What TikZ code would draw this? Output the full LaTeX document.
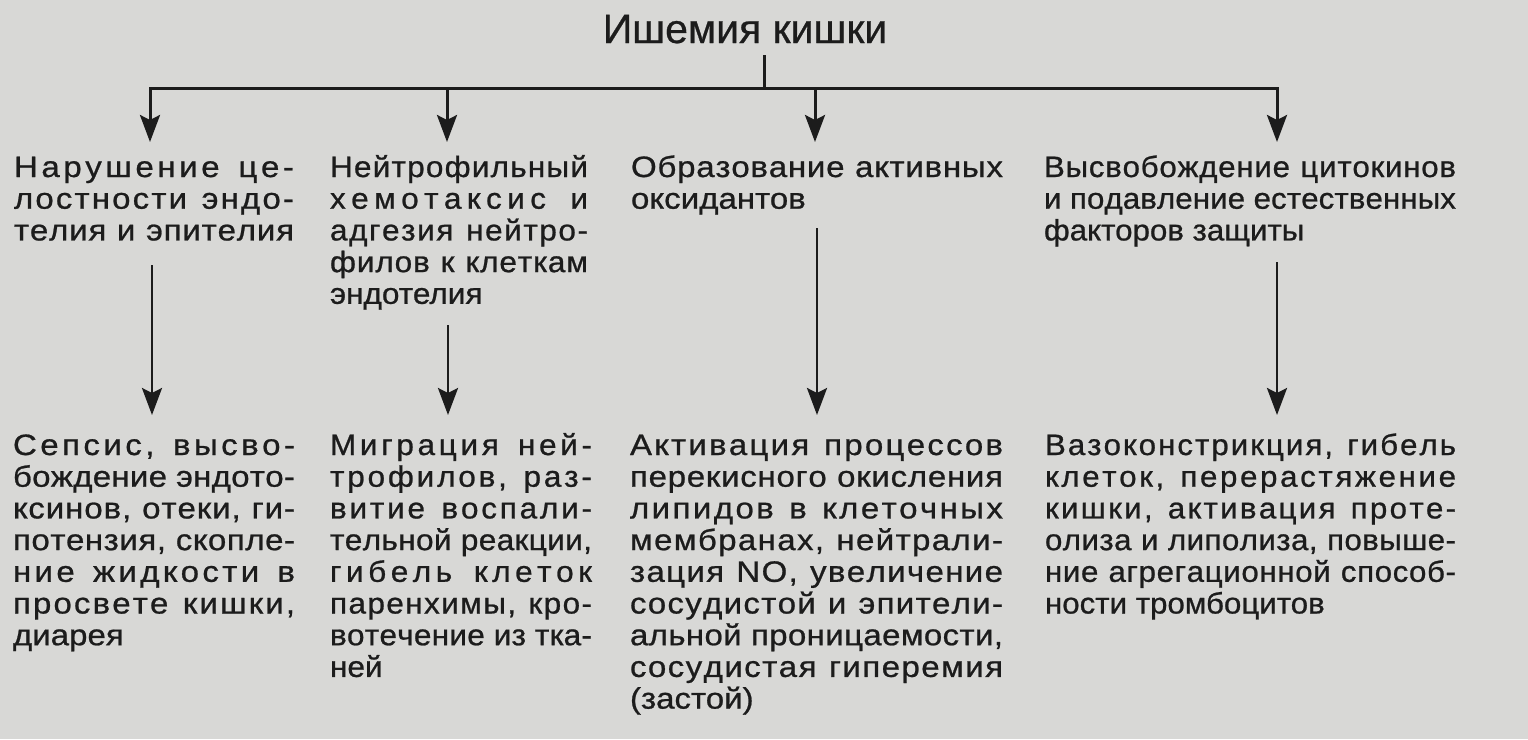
\documentclass[tikz,border=0pt]{standalone}
\usepackage{fontspec}
\setmainfont{Liberation Sans}
\newfontfamily\ftitle[FakeBold=0.6]{Liberation Sans}
\newfontfamily\fA[FakeStretch=1.12,FakeBold=0.8]{Liberation Sans}
\newfontfamily\fB[FakeStretch=1.07,FakeBold=0.8]{Liberation Sans}
\newfontfamily\fC[FakeStretch=1.12,FakeBold=0.8]{Liberation Sans}
\newfontfamily\fD[FakeStretch=1.06,FakeBold=0.8]{Liberation Sans}
\usetikzlibrary{arrows.meta}
\definecolor{paper}{RGB}{216,216,214}
\definecolor{ink}{RGB}{28,28,28}
\newdimen\cw
\ExplSyntaxOn
\tl_new:N \l__my_tl
\bool_new:N \l__my_first_bool
\cs_new_protected:Npn \my_word_space: { \hskip 0.278em plus 1fil \relax }
\NewDocumentCommand \jl { m }
  {
    \tl_set:Nn \l__my_tl {#1}
    \tl_replace_all:Nnn \l__my_tl { ~ } { \my_word_space: }
    \hbox to \cw
      {
        \bool_set_true:N \l__my_first_bool
        \tl_map_inline:Nn \l__my_tl
          {
            \bool_if:NF \l__my_first_bool { \hskip 0pt plus 1fil \relax }
            \bool_set_false:N \l__my_first_bool
            ##1
          }
      }
  }
\ExplSyntaxOff
\newcommand\nl[1]{\hbox{#1}}
\hbadness=10000
\begin{document}
\begin{tikzpicture}[x=1pt,y=-1pt,
  txt/.style={anchor=base west, inner sep=0pt, outer sep=0pt, text=ink},
  bar/.style={draw=ink, line width=3pt},
  arr/.style={draw=ink, line width=3pt, -{Stealth[length=27pt,width=20pt,inset=5pt]}},
  arrtwo/.style={draw=ink, line width=2.8pt, -{Stealth[length=27pt,width=20pt,inset=5pt]}},
  body/.style={font=\fontsize{29.5}{31.7}\selectfont}]
\fill[paper] (0,0) rectangle (1528,739);
\useasboundingbox (0,0) rectangle (1528,739);
\node[txt, anchor=base] (title) at (745,43) {\ftitle\fontsize{41}{45}\selectfont Ишемия кишки};
% top row
\node[txt, body] (t1) at (14,177) {\fA\cw=280pt\vtop{%
  \jl{Нарушение це-}\jl{лостности эндо-}\jl{телия и эпителия}}};
\node[txt, body] (t2) at (330,177) {\fB\cw=258pt\vtop{%
  \jl{Нейтрофильный}\jl{хемотаксис и}\jl{адгезия нейтро-}\jl{филов к клеткам}\nl{эндотелия}}};
\node[txt, body] (t3) at (631,177) {\fC\cw=372pt\vtop{%
  \jl{Образование активных}\nl{оксидантов}}};
\node[txt, body] (t4) at (1044,177) {\fD\cw=412pt\vtop{%
  \jl{Высвобождение цитокинов}\jl{и подавление естественных}\nl{факторов защиты}}};
% bottom row
\node[txt, body] (u1) at (13,455) {\fA\cw=282pt\vtop{%
  \jl{Сепсис, высво-}\jl{бождение эндото-}\jl{ксинов, отеки, ги-}\jl{потензия, скопле-}%
  \jl{ние жидкости в}\jl{просвете кишки,}\nl{диарея}}};
\node[txt, body] (u2) at (330,455) {\fB\cw=262pt\vtop{%
  \jl{Миграция ней-}\jl{трофилов, раз-}\jl{витие воспали-}\jl{тельной реакции,}%
  \jl{гибель клеток}\jl{паренхимы, кро-}\jl{вотечение из тка-}\nl{ней}}};
\node[txt, body] (u3) at (630,455) {\fC\cw=373pt\vtop{%
  \jl{Активация процессов}\jl{перекисного окисления}\jl{липидов в клеточных}%
  \jl{мембранах, нейтрали-}\jl{зация NO, увеличение}\jl{сосудистой и эпители-}%
  \jl{альной проницаемости,}\jl{сосудистая гиперемия}\nl{(застой)}}};
\node[txt, body] (u4) at (1045,455) {\fD\cw=411pt\vtop{%
  \jl{Вазоконстрикция, гибель}\jl{клеток, перерастяжение}\jl{кишки, активация проте-}%
  \jl{олиза и липолиза, повыше-}\jl{ние агрегационной способ-}\nl{ности тромбоцитов}}};
% connectors
\coordinate (stem) at (764,55);
\coordinate (j0) at (764,88);
\coordinate (b2) at (447,88);
\coordinate (b3) at (815,88);
\coordinate (h1) at (150,142);
\coordinate (h2) at (447,142);
\coordinate (h3) at (815,142);
\coordinate (h4) at (1277,142);
\draw[bar] (stem) -- (j0);
\draw[arr] (j0) -| (h1);
\draw[arr] (j0) -| (h4);
\draw[arr] (b2) -- (h2);
\draw[arr] (b3) -- (h3);
\coordinate (s1) at (152,265); \coordinate (e1) at (152,415);
\coordinate (s2) at (448,325); \coordinate (e2) at (448,415);
\coordinate (s3) at (817,228); \coordinate (e3) at (817,415);
\coordinate (s4) at (1277,262); \coordinate (e4) at (1277,415);
\draw[arrtwo] (s1) -- (e1);
\draw[arrtwo] (s2) -- (e2);
\draw[arrtwo] (s3) -- (e3);
\draw[arrtwo] (s4) -- (e4);
\end{tikzpicture}
\end{document}
